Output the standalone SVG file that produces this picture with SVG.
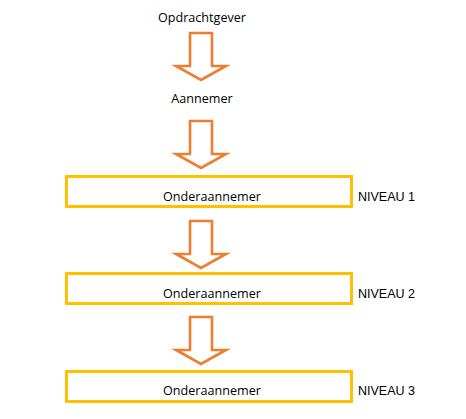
<svg xmlns="http://www.w3.org/2000/svg" width="466" height="419" viewBox="0 0 466 419">
<defs>
<style>
.lbl{font-family:"Open Sans","Noto Sans",sans-serif;font-size:12.6px;fill:#000;text-anchor:middle}
.niv{font-family:"Liberation Sans",Arial,sans-serif;font-size:12.5px;fill:#000}
.box{fill:#fff;stroke:#FFC000;stroke-width:3}
.arr{fill:#fff;stroke:#ED7D31;stroke-width:2.6;stroke-linejoin:miter}
</style>
<path id="arrow" d="M-11,0 L11,0 L11,33 L25,33 L0,47 L-25,33 L-11,33 Z"/>
</defs>
<rect width="466" height="419" fill="#fff"/>
<g id="connectors">
<use href="#arrow" class="arr" x="201" y="33"/>
<use href="#arrow" class="arr" x="201" y="121"/>
<use href="#arrow" class="arr" x="201" y="221"/>
<use href="#arrow" class="arr" x="201" y="317"/>
</g>
<g id="opdrachtgever"><text class="lbl" x="202" y="22">Opdrachtgever</text></g>
<g id="aannemer"><text class="lbl" x="202" y="103">Aannemer</text></g>
<g id="onderaannemer1">
<rect class="box" x="66.5" y="176.5" width="285" height="30"/>
<text class="lbl" x="212" y="201">Onderaannemer</text>
</g>
<g id="onderaannemer2">
<rect class="box" x="66.5" y="273.5" width="285" height="30"/>
<text class="lbl" x="212" y="298">Onderaannemer</text>
</g>
<g id="onderaannemer3">
<rect class="box" x="66.5" y="371.5" width="285" height="30"/>
<text class="lbl" x="212" y="395">Onderaannemer</text>
</g>
<g id="niveau1"><text class="niv" x="358" y="201">NIVEAU 1</text></g>
<g id="niveau2"><text class="niv" x="358" y="298">NIVEAU 2</text></g>
<g id="niveau3"><text class="niv" x="358" y="395">NIVEAU 3</text></g>
</svg>
